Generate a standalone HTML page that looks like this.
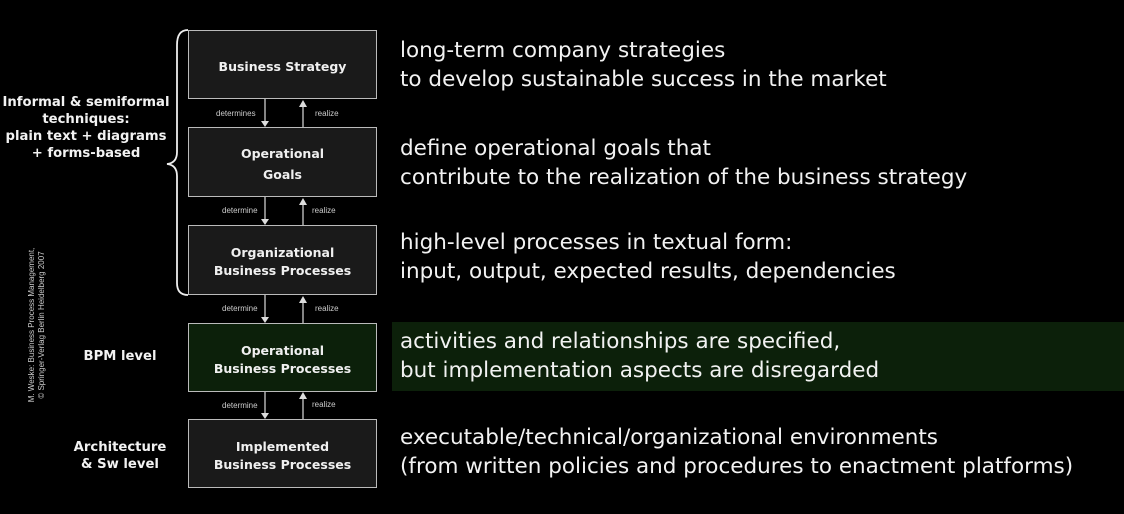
<!DOCTYPE html>
<html><head><meta charset="utf-8"><style>
body{margin:0;background:#000;width:1124px;height:514px;overflow:hidden;position:relative;font-family:"DejaVu Sans","Liberation Sans",sans-serif;color:#fff}
.box{position:absolute;left:188px;width:189px;border:1.5px solid #bbb;background:#1a1a1a;box-sizing:border-box;display:flex;align-items:center;justify-content:center;text-align:center;font-weight:bold;font-size:12.5px;line-height:18px;color:#f0f0f0;padding-top:4px}
.lbl{position:absolute;font-family:"Liberation Sans",sans-serif;font-size:8px;color:#ccc}
.txt{position:absolute;left:400px;font-size:21.5px;line-height:29px;color:#f2f2f2;white-space:nowrap}
.side{position:absolute;font-weight:bold;font-size:13.2px;line-height:17px;text-align:center;color:#f2f2f2;white-space:nowrap}
</style></head><body>
<div style="position:absolute;left:392px;top:322px;width:732px;height:69px;background:#0c200a"></div>
<svg style="position:absolute;left:0;top:0" width="1124" height="514">
<g stroke="#ccc" stroke-width="1.3">
<line x1="265" y1="99" x2="265" y2="122"/><line x1="303" y1="127" x2="303" y2="106"/>
<line x1="265" y1="197" x2="265" y2="220"/><line x1="303" y1="225" x2="303" y2="204"/>
<line x1="265" y1="295" x2="265" y2="318"/><line x1="303" y1="323" x2="303" y2="302"/>
<line x1="265" y1="392" x2="265" y2="414"/><line x1="303" y1="419" x2="303" y2="398"/>
</g>
<g fill="#ddd">
<path d="M261,121 L269,121 L265,127 z"/><path d="M299,107 L307,107 L303,100 z"/>
<path d="M261,219 L269,219 L265,225 z"/><path d="M299,205 L307,205 L303,198 z"/>
<path d="M261,317 L269,317 L265,323 z"/><path d="M299,303 L307,303 L303,296 z"/>
<path d="M261,413 L269,413 L265,419 z"/><path d="M299,399 L307,399 L303,392 z"/>
</g>
<path d="M188,30 Q177,30 177,45 L177,152 Q177,163 167,164 Q177,165 177,176 L177,283 Q177,295 188,295" fill="none" stroke="#eee" stroke-width="1.8"/>
</svg>
<div class="box" style="top:30px;height:69px">Business Strategy</div>
<div class="box" style="top:127px;height:70px;line-height:21px">Operational<br>Goals</div>
<div class="box" style="top:225px;height:70px">Organizational<br>Business Processes</div>
<div class="box" style="top:323px;height:69px;background:#0c200a">Operational<br>Business Processes</div>
<div class="box" style="top:419px;height:69px">Implemented<br>Business Processes</div>
<div class="lbl" style="left:216px;top:109px">determines</div>
<div class="lbl" style="left:315px;top:109px">realize</div>
<div class="lbl" style="left:222px;top:206px">determine</div>
<div class="lbl" style="left:312px;top:206px">realize</div>
<div class="lbl" style="left:222px;top:304px">determine</div>
<div class="lbl" style="left:315px;top:304px">realize</div>
<div class="lbl" style="left:222px;top:401px">determine</div>
<div class="lbl" style="left:312px;top:400px">realize</div>
<div class="side" style="left:0;top:94px;width:172px">Informal &amp; semiformal<br>techniques:<br>plain text + diagrams<br>+ forms-based</div>
<div class="side" style="left:70px;top:348px;width:100px">BPM level</div>
<div class="side" style="left:70px;top:439px;width:100px">Architecture<br>&amp; Sw level</div>
<div style="position:absolute;left:37px;top:325px;transform:translate(-50%,-50%) rotate(-90deg);white-space:nowrap;font-family:'Liberation Sans',sans-serif;font-size:8px;line-height:10px;color:#ccc;text-align:center">M. Weske: Business Process Management,<br>© Springer-Verlag Berlin Heidelberg 2007</div>
<div class="txt" style="top:36px">long-term company strategies<br>to develop sustainable success in the market</div>
<div class="txt" style="top:134px">define operational goals that<br>contribute to the realization of the business strategy</div>
<div class="txt" style="top:228px">high-level processes in textual form:<br>input, output, expected results, dependencies</div>
<div class="txt" style="top:327px">activities and relationships are specified,<br>but implementation aspects are disregarded</div>
<div class="txt" style="top:423px">executable/technical/organizational environments<br>(from written policies and procedures to enactment platforms)</div>
</body></html>
